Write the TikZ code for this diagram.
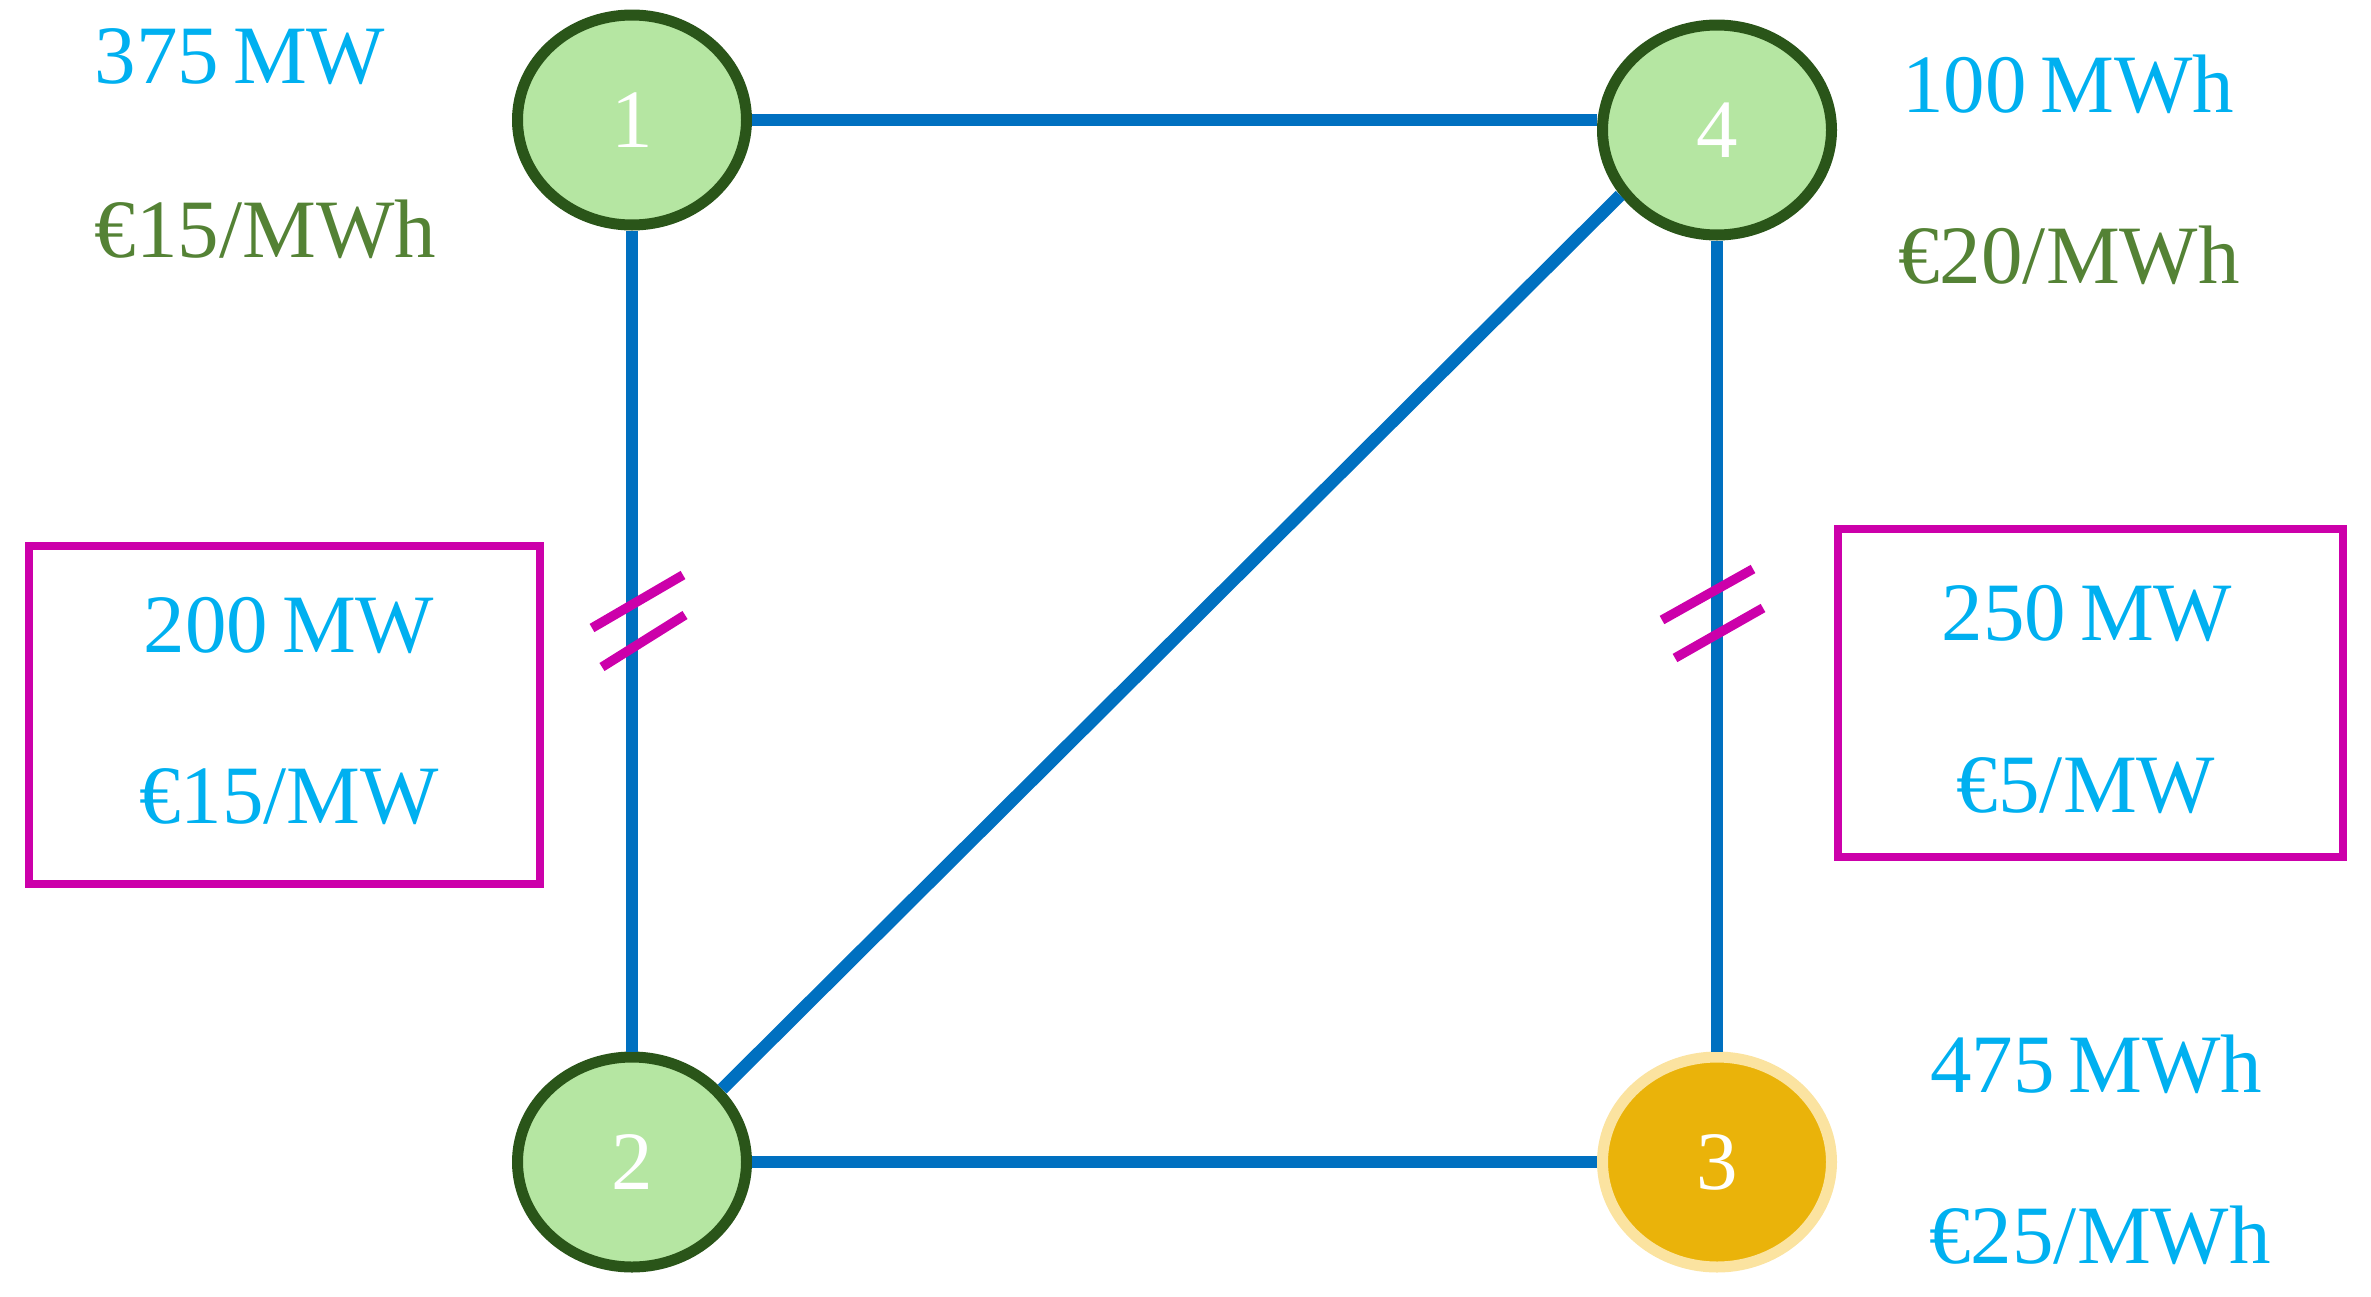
\documentclass[tikz,border=0pt]{standalone}
\usepackage{fontspec}
\setmainfont{Liberation Serif}
\usetikzlibrary{shapes.geometric}
\definecolor{lineblue}{HTML}{0070C0}
\definecolor{txtcyan}{HTML}{00B0F0}
\definecolor{txtgreen}{HTML}{548235}
\definecolor{magen}{HTML}{CC00AA}
\definecolor{nodefill}{HTML}{B5E6A2}
\definecolor{nodedraw}{HTML}{2A5519}
\definecolor{goldfill}{HTML}{EAB30A}
\definecolor{golddraw}{HTML}{FBE3A0}
\tikzset{
  bus/.style={ellipse, draw=nodedraw, fill=nodefill, line width=11pt, inner sep=0pt,
    minimum width=229pt, minimum height=210pt, text=white,
    font=\fontsize{83}{100}\selectfont},
  busgold/.style={bus, draw=golddraw, fill=goldfill},
  lineedge/.style={draw=lineblue, line width=12.5pt},
  hatch/.style={draw=magen, line width=9.5pt},
  limbox/.style={draw=magen, line width=8pt, rectangle, inner sep=0pt},
  lbl/.style={anchor=base, inner sep=0pt, font=\fontsize{83}{100}\selectfont},
  cyanlbl/.style={lbl, text=txtcyan},
  greenlbl/.style={lbl, text=txtgreen}
}
\begin{document}
\begin{tikzpicture}[x=1pt, y=-1pt]
\useasboundingbox (0,0) rectangle (2371,1296);
% boxes
\node[limbox, minimum width=511pt, minimum height=338pt] (boxL) at (284,714.5) {};
\node[limbox, minimum width=505pt, minimum height=328pt] (boxR) at (2090.5,692.5) {};
% buses
\node[bus] (n1) at (632,120) {1};
\node[bus] (n4) at (1717,130) {4};
\node[bus] (n2) at (632,1162) {2};
\node[busgold] (n3) at (1717,1162) {3};
% lines
\draw[lineedge] (n1) -- (n4.west |- n1);
\draw[lineedge] (n1) -- (n2);
\draw[lineedge] (n2) -- (n3);
\draw[lineedge] (n4) -- (n3);
\draw[lineedge] (n2.39) -- (n4.214);
% hatches
\draw[hatch] (592,628) -- (683,575);
\draw[hatch] (602,667) -- (685,615);
\draw[hatch] (1662,620) -- (1753,569);
\draw[hatch] (1675,658) -- (1763,608);
% labels
\node[cyanlbl] (l1a) at (240,83) {375\,MW};
\node[greenlbl] (l1b) at (265.5,257) {€15/MWh};
\node[cyanlbl] (l4a) at (2068,112) {100\,MWh};
\node[greenlbl] (l4b) at (2069,283) {€20/MWh};
\node[cyanlbl] (l3a) at (2096,1092) {475\,MWh};
\node[cyanlbl] (l3b) at (2100,1263) {€25/MWh};
\node[cyanlbl] (bLa) at (289,652) {200\,MW};
\node[cyanlbl] (bLb) at (289,823) {€15/MW};
\node[cyanlbl] (bRa) at (2087,640) {250\,MW};
\node[cyanlbl] (bRb) at (2086,812) {€5/MW};
\end{tikzpicture}
\end{document}
